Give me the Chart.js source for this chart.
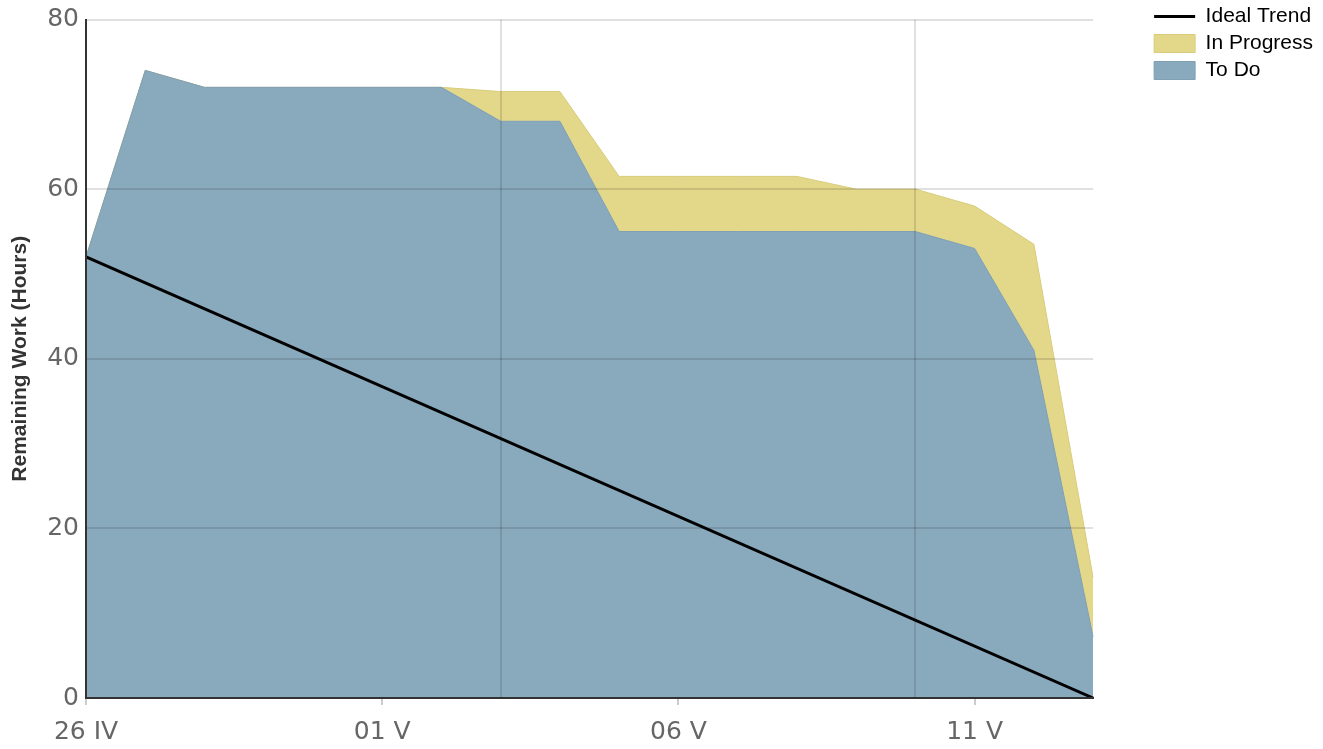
<!DOCTYPE html>
<html>
<head>
<meta charset="UTF-8">
<title>Burndown</title>
<script src="https://cdn.jsdelivr.net/npm/chart.js@4.4.0/dist/chart.umd.min.js"></script>
<style>
  html, body { margin: 0; padding: 0; background: #fff; }
  #wrap { width: 1323px; height: 749px; }
</style>
</head>
<body>
<div id="wrap"><canvas id="burn"></canvas></div>
<script>
// days of the sprint
const days = ['26 IV', '27 IV', '28 IV', '29 IV', '30 IV', '01 V', '02 V', '03 V', '04 V',
  '05 V', '06 V', '07 V', '08 V', '09 V', '10 V', '11 V', '12 V', '13 V'];
// remaining hours
const toDo = [52, 74, 72, 72, 72, 72, 72, 68, 68, 55, 55, 55, 55, 55, 55, 53, 41, 7.2];
const inProgress = [0, 0, 0, 0, 0, 0, 0, 3.5, 3.5, 6.5, 6.5, 6.5, 6.5, 5, 5, 5, 12.5, 7];
const idealTrend = [52, null, null, null, null, null, null, null, null,
  null, null, null, null, null, null, null, null, 0];
const labelDays = [0, 5, 10, 15];   // days that get a tick label
const weekLines = [7, 14];          // vertical grid lines
const yTicks = [0, 20, 40, 60, 80];

const legendRank = { 'Ideal Trend': 0, 'In Progress': 1, 'To Do': 2 };

new Chart(document.getElementById('burn'), {
  type: 'line',
  data: {
    labels: days,
    datasets: [
      {
        label: 'To Do',
        data: toDo,
        stack: 'work',
        fill: 'origin',
        backgroundColor: '#89a9bc',
        borderColor: '#7f9fb3',
        borderWidth: 1,
        pointRadius: 0,
        pointStyle: 'rect',
        tension: 0
      },
      {
        label: 'In Progress',
        data: inProgress,
        stack: 'work',
        fill: '-1',
        backgroundColor: '#e3d88a',
        borderColor: '#d8cc7c',
        borderWidth: 1,
        pointRadius: 0,
        pointStyle: 'rect',
        tension: 0
      },
      {
        label: 'Ideal Trend',
        data: idealTrend,
        stack: 'ideal',
        order: -1,
        spanGaps: true,
        fill: false,
        borderColor: '#000',
        backgroundColor: '#000',
        borderWidth: 3,
        pointRadius: 0,
        pointStyle: 'line',
        tension: 0
      }
    ]
  },
  options: {
    responsive: true,
    maintainAspectRatio: false,
    animation: false,
    layout: { padding: { top: 0, right: 0, bottom: -10, left: 0 } },
    plugins: {
      tooltip: { enabled: false },
      legend: {
        position: 'right',
        align: 'start',
        labels: {
          usePointStyle: true,
          pointStyleWidth: 41,
          boxHeight: 18,
          padding: 6,
          color: '#000',
          font: { family: '"Liberation Sans", Arial, sans-serif', size: 21 },
          sort: (a, b) => legendRank[a.text] - legendRank[b.text]
        }
      }
    },
    scales: {
      x: {
        offset: false,
        grid: {
          z: 1,
          lineWidth: 2,
          tickLength: 7,
          tickWidth: 1,
          color: ctx => weekLines.includes(ctx.index) ? 'rgba(0,0,0,0.12)' : 'rgba(0,0,0,0)',
          tickColor: ctx => labelDays.includes(ctx.index) ? '#999' : 'rgba(0,0,0,0)'
        },
        border: { color: '#333', width: 2, z: 1 },
        ticks: {
          autoSkip: false,
          maxRotation: 0,
          color: '#666',
          padding: 12,
          font: { family: '"DejaVu Sans", Verdana, sans-serif', size: 25 },
          callback: (v, i) => labelDays.includes(i) ? days[i] : ''
        }
      },
      y: {
        stacked: true,
        min: 0,
        max: 80,
        afterBuildTicks: s => { s.ticks = yTicks.map(v => ({ value: v })); },
        grid: {
          z: 1,
          lineWidth: 2,
          drawTicks: false,
          color: ctx => ctx.tick && ctx.tick.value === 0 ? 'rgba(0,0,0,0)' : 'rgba(0,0,0,0.12)'
        },
        border: { color: '#333', width: 2, z: 1 },
        ticks: {
          color: '#666',
          padding: 7,
          font: { family: '"DejaVu Sans", Verdana, sans-serif', size: 25, lineHeight: 1.0 }
        },
        title: {
          display: true,
          text: 'Remaining Work (Hours)',
          color: '#333',
          padding: { top: 8, bottom: 7 },
          font: { family: '"Liberation Sans", Arial, sans-serif', size: 21, weight: 'bold' }
        }
      },
      y2: {
        position: 'right',
        min: 0,
        max: 80,
        grid: { display: false },
        border: { display: false },
        ticks: { display: false },
        afterFit: s => { s.width = 55; }
      }
    }
  }
});
</script>
</body>
</html>
